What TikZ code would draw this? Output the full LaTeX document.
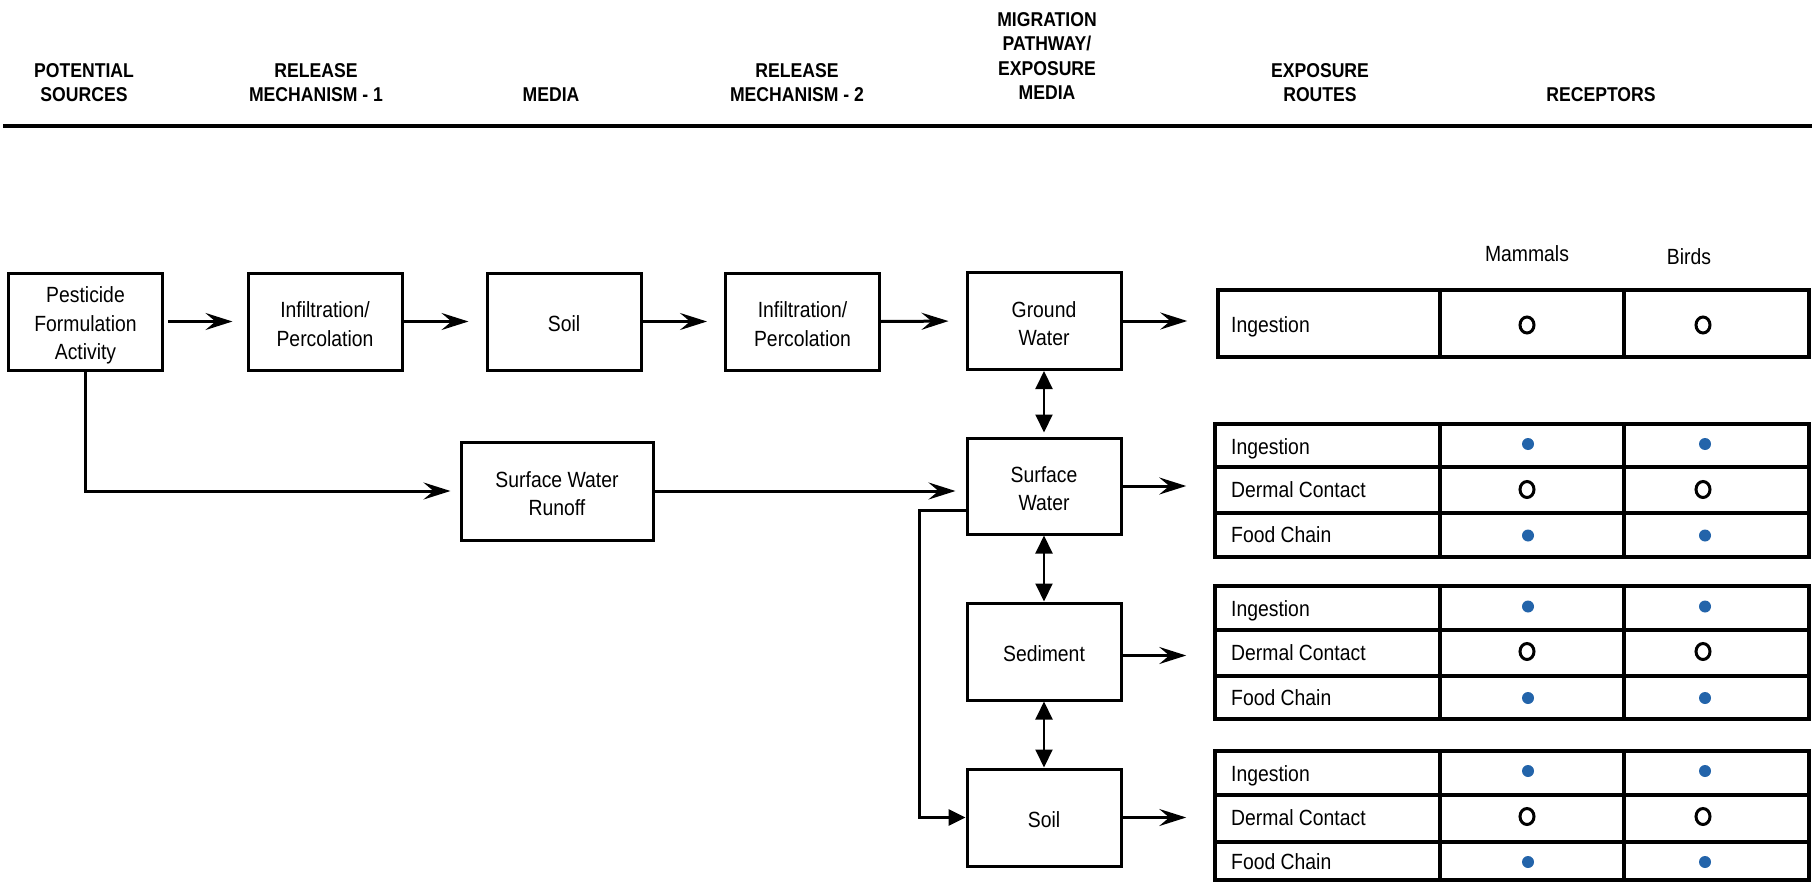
\documentclass[tikz,border=0pt]{standalone}
\usepackage{fontspec}
\setmainfont[FakeStretch=0.88]{Liberation Sans}
\usetikzlibrary{arrows.meta}
\definecolor{dotblue}{RGB}{35,100,170}
\newcommand\myBody{\fontsize{22}{28.5}\selectfont}
\newcommand\myHead{\fontsize{20}{24.5}\selectfont\bfseries}
\tikzset{
  box/.style={draw, line width=3pt, minimum width=154pt, minimum height=97pt, inner sep=0pt},
  btxt/.style={inner sep=0pt, align=center, font=\myBody},
  hdr/.style={inner sep=0pt, align=center, font=\myHead, anchor=south},
  arr/.style={line width=3pt, -{Stealth[length=27pt,width=17pt,inset=10pt]}, shorten >=17pt},
  dbl/.style={line width=2pt, {Triangle[length=18pt,width=17pt]}-{Triangle[length=18pt,width=17pt]}},
  tframe/.style={draw, line width=3.5pt, inner sep=0pt},
  tline/.style={line width=3.5pt},
  rowtxt/.style={inner sep=0pt, anchor=base west, font=\myBody},
  rcpt/.style={inner sep=0pt, anchor=base, font=\myBody},
  openmk/.style={line width=3pt},
}
\begin{document}
\begin{tikzpicture}[x=1pt,y=-1pt]
\useasboundingbox (0,0) rectangle (1816,883);

% headers
\node[hdr] (hA) at (84,102) {POTENTIAL\\SOURCES};
\node[hdr] (hB) at (316,102) {RELEASE\\MECHANISM - 1};
\node[hdr] (hC) at (551,102) {MEDIA};
\node[hdr] (hD) at (797,102) {RELEASE\\MECHANISM - 2};
\node[hdr] (hE) at (1047,100) {MIGRATION\\PATHWAY/\\EXPOSURE\\MEDIA};
\node[hdr] (hF) at (1320,102) {EXPOSURE\\ROUTES};
\node[hdr] (hG) at (1601,102) {RECEPTORS};
\draw[line width=4pt] (3,126) -- (1812,126);

% boxes
\node[box] (src) at (85.5,321.5) {};
\node[box] (inf1) at (325,321.5) {};
\node[box] (soilA) at (564,321.5) {};
\node[box] (inf2) at (802.5,321.5) {};
\node[box] (gw) at (1044,321) {};
\node[box, minimum width=192pt, minimum height=98pt] (runoff) at (557,491) {};
\node[box, minimum height=96pt] (sw) at (1044,486) {};
\node[box] (sed) at (1044,651.5) {};
\node[box] (soilB) at (1044,817.5) {};

% box texts
\node[btxt] (srcT) at ([yshift=-4pt]src.center) {Pesticide\\Formulation\\Activity};
\node[btxt] (inf1T) at ([yshift=-2.5pt]inf1.center) {Infiltration/\\Percolation};
\node[btxt] (soilAT) at ([yshift=-2.5pt]soilA.center) {Soil};
\node[btxt] (inf2T) at ([yshift=-2.5pt]inf2.center) {Infiltration/\\Percolation};
\node[btxt] (gwT) at ([yshift=-2.5pt]gw.center) {Ground\\Water};
\node[btxt] (runoffT) at ([yshift=-2.5pt]runoff.center) {Surface Water\\Runoff};
\node[btxt] (swT) at ([yshift=-2.5pt]sw.center) {Surface\\Water};
\node[btxt] (sedT) at ([yshift=-2.5pt]sed.center) {Sediment};
\node[btxt] (soilBT) at ([yshift=-2.5pt]soilB.center) {Soil};

% tables
\node[tframe, minimum width=591pt, minimum height=67pt] (tA) at (1513.5,323.5) {};
\node[tframe, minimum width=594pt, minimum height=133pt] (tB) at (1512,490.5) {};
\node[tframe, minimum width=594pt, minimum height=133pt] (tC) at (1512,652.5) {};
\node[tframe, minimum width=594pt, minimum height=129pt] (tD) at (1512,815.5) {};
\foreach \c in {1440,1624}{
  \draw[tline] (\c,290) -- (\c,357);
  \draw[tline] (\c,424) -- (\c,557);
  \draw[tline] (\c,586) -- (\c,719);
  \draw[tline] (\c,751) -- (\c,880);
}
\foreach \r in {467,513,630,676,795,842}{
  \draw[tline] (1215,\r) -- (1809,\r);
}

% receptor labels
\node[rcpt] (mam) at (1527,261) {Mammals};
\node[rcpt] (brd) at (1689,264) {Birds};

% row texts
\foreach \y/\t [count=\i] in {332/Ingestion, 454/Ingestion, 497/Dermal Contact, 542.5/Food Chain,
  616/Ingestion, 660/Dermal Contact, 705/Food Chain,
  781/Ingestion, 825.5/Dermal Contact, 869/Food Chain}{
  \node[rowtxt] (row\i) at (1231,\y) {\t};
}

% symbols
\foreach \y in {444,535.5,606.5,698,771,862}{
  \fill[dotblue] (1528,\y) circle[radius=6pt];
  \fill[dotblue] (1705,\y) circle[radius=6pt];
}
\foreach \y in {325,489.5,651.5,816.5}{
  \draw[openmk] (1527,\y) ellipse[x radius=7pt, y radius=8pt];
  \draw[openmk] (1703,\y) ellipse[x radius=7pt, y radius=8pt];
}

% connectors
\draw[arr, shorten <=4pt, shorten >=14pt] (src.east) -- (inf1.west);
\draw[arr] (inf1.east) -- (soilA.west);
\draw[arr] (soilA.east) -- (inf2.west);
\draw[arr] (inf2.east) -- (gw.west);
\draw[arr, shorten >=29pt] (gw.east) -- (gw.east -| tA.west);
\draw[arr, shorten >=27pt] (sw.east) -- (sw.east -| tB.west);
\draw[arr, shorten >=27pt] ([yshift=-4pt]sed.east) -- ([yshift=-4pt]sed.east -| tC.west);
\draw[arr, shorten >=27pt] (soilB.east) -- (soilB.east -| tD.west);
\draw[arr, shorten >=9pt] (src.south) |- (runoff.west);
\draw[arr, shorten >=10pt] (runoff.east) -- (runoff.east -| sw.west);
\coordinate (bend) at (919,0);
\draw[line width=3pt, -{Triangle[length=17pt,width=16pt]}] ([yshift=-24pt]sw.west) -- ([yshift=-24pt]sw.west -| bend) |- (soilB.west);
\draw[dbl, shorten >=4pt] (gw.south) -- (sw.north);
\draw[dbl] (sw.south) -- (sed.north);
\draw[dbl] (sed.south) -- (soilB.north);
\end{tikzpicture}
\end{document}
